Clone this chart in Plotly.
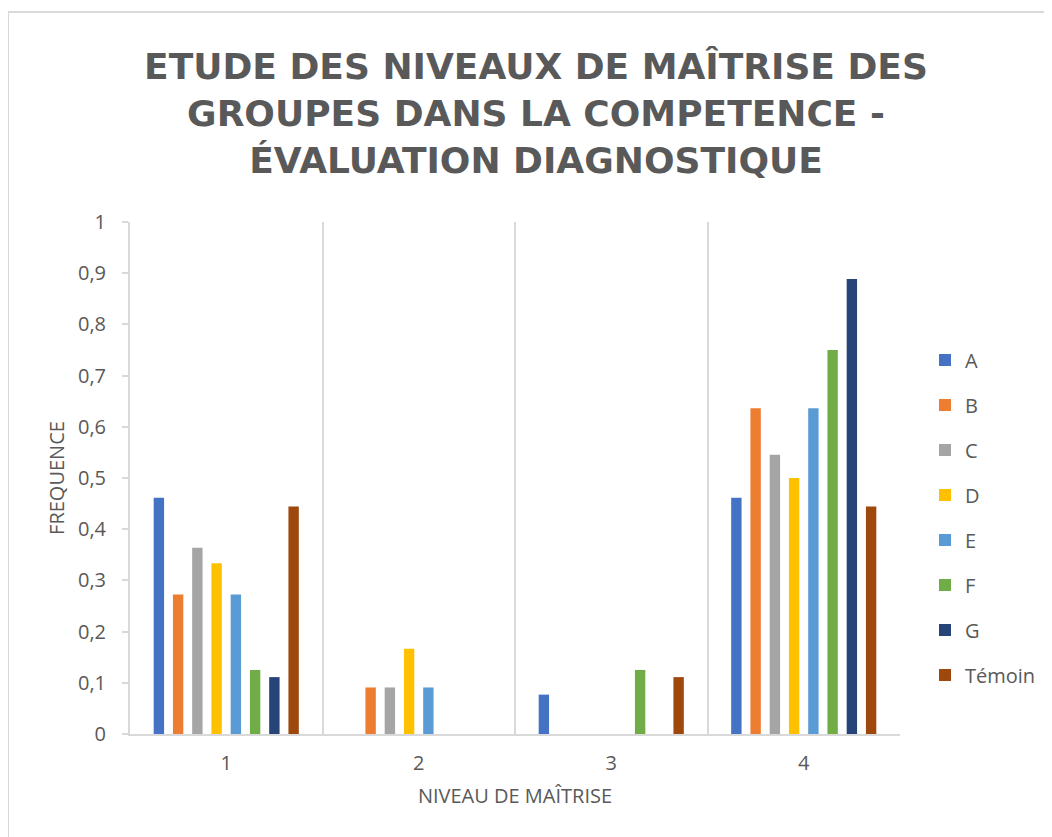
import plotly.graph_objects as go

categories = ["1", "2", "3", "4"]
series_names = ["A", "B", "C", "D", "E", "F", "G", "Témoin"]
A = [0.4615, 0, 0.0769, 0.4615]
B = [0.2727, 0.0909, 0, 0.6364]
C = [0.3636, 0.0909, 0, 0.5455]
D = [0.3333, 0.1667, 0, 0.5]
E = [0.2727, 0.0909, 0, 0.6364]
F = [0.125, 0, 0.125, 0.75]
G = [0.1111, 0, 0, 0.8889]
Temoin = [0.4444, 0, 0.1111, 0.4444]
series_values = [A, B, C, D, E, F, G, Temoin]
colors = ["#4472C4", "#ED7D31", "#A5A5A5", "#FFC000", "#5B9BD5", "#70AD47", "#264478", "#9E480E"]

# page has an 8px body margin; figure coords = page coords - 8
OFF = 8
W, H = 1052 - OFF, 837 - OFF
L, R, T, B_ = 130 - OFF, 900 - OFF, 222 - OFF, 734 - OFF
pw, ph = R - L, B_ - T

fig = go.Figure()
for name, vals, col in zip(series_names, series_values, colors):
    fig.add_trace(go.Bar(x=categories, y=vals, name=name, marker=dict(color=col, line=dict(width=0)),
                         legendgroup=name))

gray = "#595959"
lg = "#D9D9D9"
fig.update_layout(
    width=W, height=H,
    margin=dict(l=L, r=W - R, t=T, b=H - B_, autoexpand=False),
    paper_bgcolor="white", plot_bgcolor="white",
    separators=", ",
    font=dict(family="Open Sans", size=20, color=gray),
    barmode="group", bargap=0.2, bargroupgap=0.46,
    title=dict(text="ETUDE DES NIVEAUX DE MAÎTRISE DES<br>GROUPES DANS LA COMPETENCE -<br>ÉVALUATION DIAGNOSTIQUE",
               x=(536 - OFF) / W, xanchor="center", xref="container", y=1 - 71 / H, yanchor="middle",
               yref="container",
               font=dict(family="DejaVu Sans", size=36, color=gray, weight="bold")),
    legend=dict(x=(925 - 130) / pw, xanchor="left", y=(734 - 517.5) / ph, yanchor="middle",
                traceorder="grouped", tracegroupgap=16, itemwidth=30,
                font=dict(family="Open Sans", size=20, color=gray), bgcolor="rgba(0,0,0,0)"),
    xaxis=dict(type="category", tickson="boundaries", showgrid=True, gridcolor=lg, gridwidth=2,
               ticks="", showline=True, linecolor=lg, linewidth=2, ticklabelstandoff=10,
               title=dict(text="NIVEAU DE MAÎTRISE", standoff=14, font=dict(size=20, color=gray))),
    yaxis=dict(range=[0, 1], dtick=0.1, showgrid=False, zeroline=False, showline=True, linecolor=lg,
               linewidth=2, ticks="outside", ticklen=6, tickcolor=lg, tickwidth=2, ticklabelstandoff=12,
               title=dict(text="FREQUENCE", standoff=8, font=dict(size=20, color=gray))),
    shapes=[dict(type="rect", xref="paper", yref="paper",
                 x0=(0 - L) / pw, x1=(1070 - L) / pw, y0=(B_ - 860) / ph, y1=(B_ - 4) / ph,
                 line=dict(color=lg, width=2), fillcolor="rgba(0,0,0,0)", layer="below")],
)
fig.write_html("out.html")
